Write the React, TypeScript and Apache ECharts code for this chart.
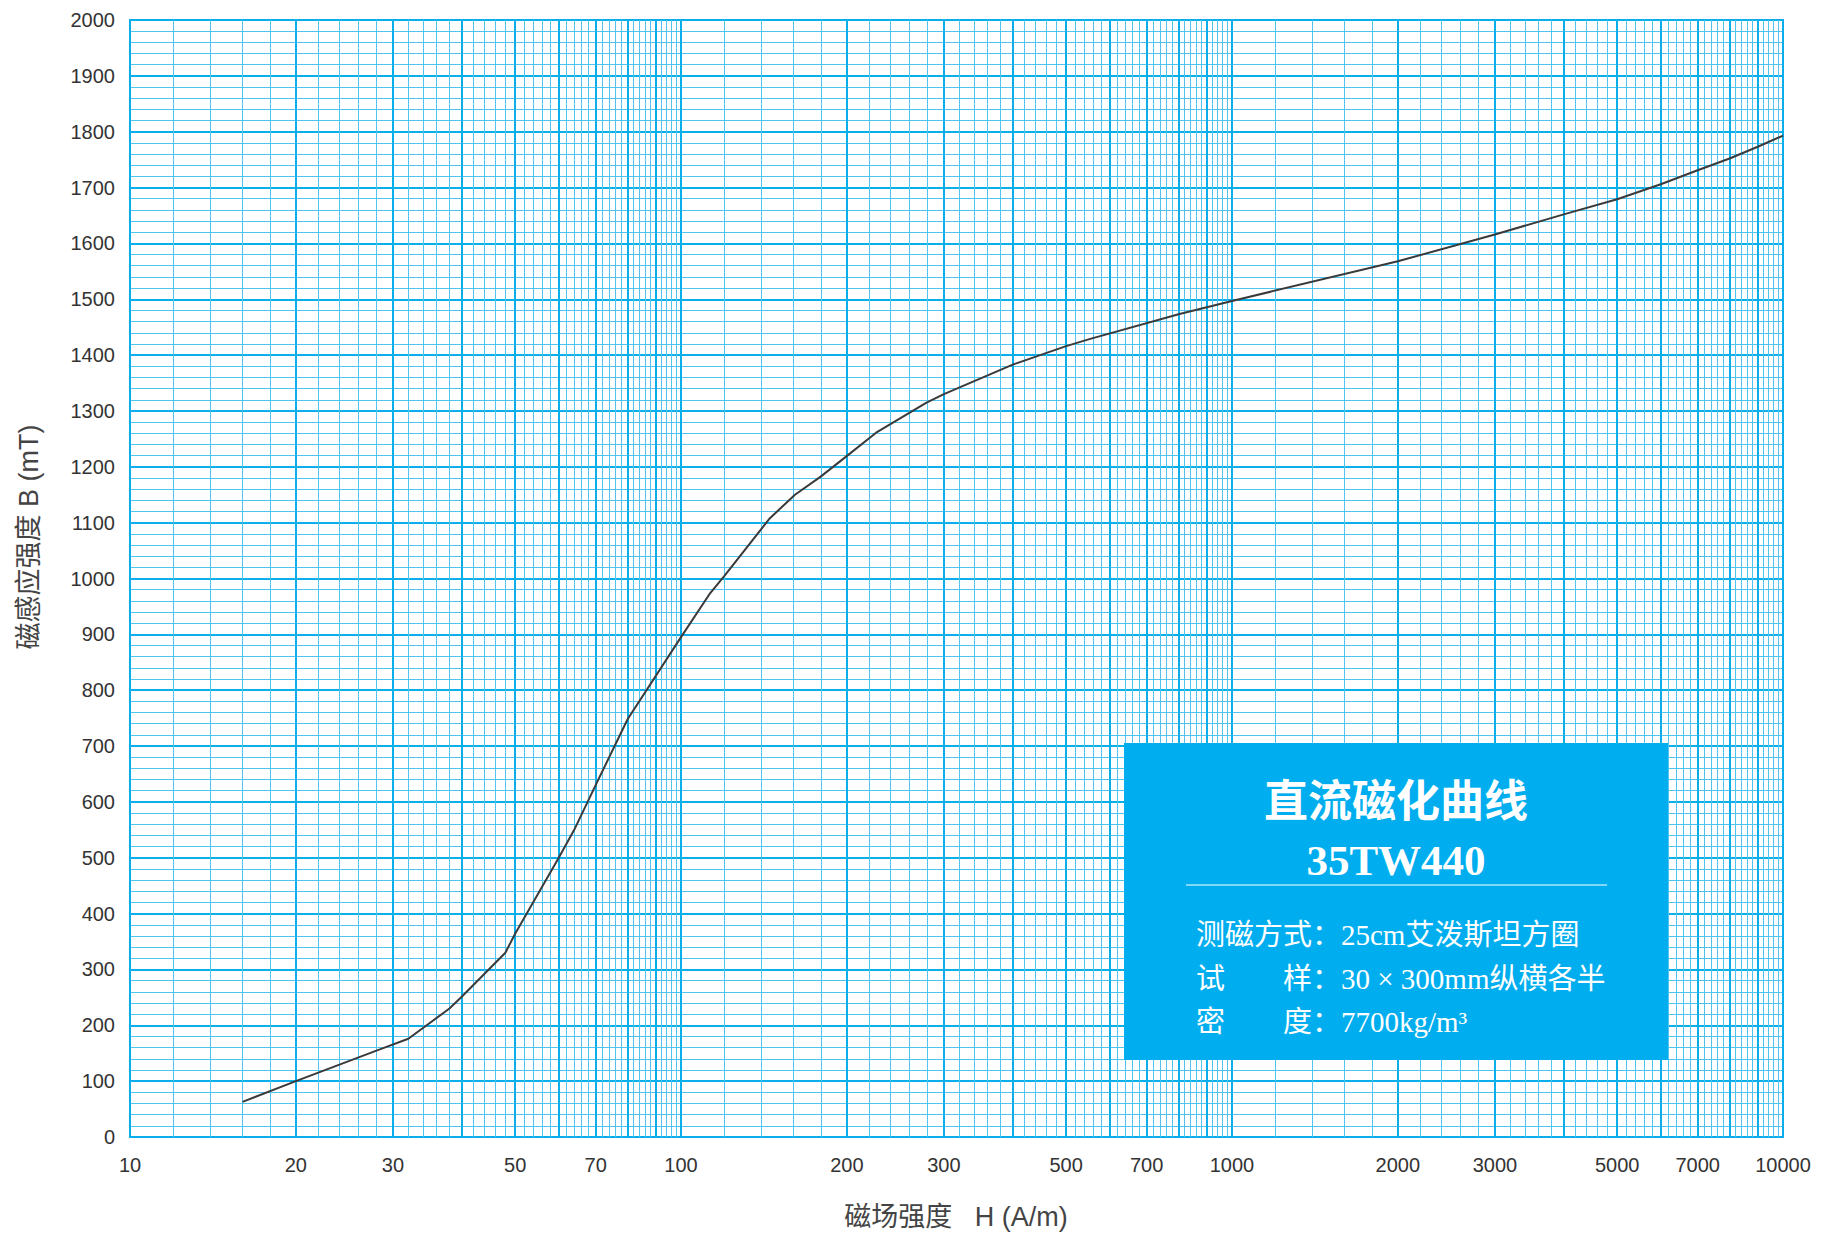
import React, { useEffect, useRef } from "react";
import * as echarts from "echarts";

// Magnetic field strength H (A/m) and flux density B (mT)
const H_VALUES = [16, 20, 28.4, 32, 38, 40, 48, 50, 60, 64, 70, 80, 100, 113, 120, 145, 161, 179, 198, 226, 279, 300, 400, 500, 553, 800, 1000, 2000, 3000, 4000, 5000, 6000, 7000, 8000, 9000, 10000];
const B_VALUES = [63, 100, 157, 176, 230, 251, 330, 364, 500, 550, 630, 748, 895, 974, 1005, 1108, 1150, 1182, 1216, 1261, 1315, 1330, 1383, 1416, 1429, 1473, 1497, 1568, 1616, 1652, 1679, 1706, 1731, 1752, 1773, 1793];

const X_TICK_LABELS = [10, 20, 30, 50, 70, 100, 200, 300, 500, 700, 1000, 2000, 3000, 5000, 7000, 10000];
const X_MIN = 10;
const X_MAX = 10000;
const Y_MIN = 0;
const Y_MAX = 2000;
const Y_STEP = 100;

const X_NAME = "磁场强度   H (A/m)";
const Y_NAME = "磁感应强度 B (mT)";
const BOX_TITLE = "直流磁化曲线";
const BOX_GRADE = "35TW440";
const BOX_LINES = ["测磁方式：25cm艾泼斯坦方圈", "试　　样：30 × 300mm纵横各半", "密　　度：7700kg/m³"];

const DECADES = [10, 100, 1000];
const MAJOR_STEPS = [1, 2, 3, 4, 5, 6, 7, 8, 9];
const MINOR_FRACTIONS = [0.2, 0.4, 0.6, 0.8];

const MAJOR_COLOR = "#0aaeea";
const MINOR_COLOR = "#4fc4ef";

function buildVerticalGrid() {
  const lines: any[] = [];
  DECADES.forEach((d) => {
    MAJOR_STEPS.forEach((m) => {
      MINOR_FRACTIONS.forEach((f) => {
        lines.push({ xAxis: (m + f) * d, lineStyle: { color: MINOR_COLOR, width: 1, type: "solid" } });
      });
    });
  });
  DECADES.forEach((d) => {
    MAJOR_STEPS.forEach((m) => {
      lines.push({ xAxis: m * d, lineStyle: { color: MAJOR_COLOR, width: 2, type: "solid" } });
    });
  });
  lines.push({ xAxis: X_MAX, lineStyle: { color: MAJOR_COLOR, width: 2, type: "solid" } });
  return lines;
}

export default function App() {
  const ref = useRef<HTMLDivElement>(null);

  useEffect(() => {
    if (!ref.current) return;
    const chart = echarts.init(ref.current, null, { renderer: "svg" });
    const serifFont = "'Liberation Serif', 'Noto Sans CJK SC', serif";
    const sansFont = "'Liberation Sans', 'Noto Sans CJK SC', sans-serif";
    const BOX_Z = 200;

    const option: any = {
      animation: false,
      backgroundColor: "#ffffff",
      grid: {
        left: 130,
        right: 49,
        top: 20,
        bottom: 97,
        show: true,
        backgroundColor: "#ffffff",
        borderColor: MAJOR_COLOR,
        borderWidth: 2,
      },
      xAxis: [
        {
          type: "log",
          logBase: 10,
          min: X_MIN,
          max: X_MAX,
          axisLine: { show: false },
          axisTick: { show: false },
          axisLabel: { show: false },
          splitLine: { show: false },
          minorSplitLine: { show: false },
        },
        {
          type: "value",
          min: Math.log10(X_MIN),
          max: Math.log10(X_MAX),
          position: "bottom",
          axisLine: { show: false },
          axisTick: { show: false },
          splitLine: { show: false },
          axisLabel: {
            customValues: X_TICK_LABELS.map((v) => Math.log10(v)),
            formatter: (v: number) => String(Math.round(Math.pow(10, v))),
            margin: 18,
            fontSize: 20,
            color: "#333333",
            fontFamily: "'Liberation Sans', Arial, sans-serif",
            hideOverlap: false,
          },
        },
      ],
      yAxis: {
        type: "value",
        min: Y_MIN,
        max: Y_MAX,
        interval: Y_STEP,
        axisLine: { show: false },
        axisTick: { show: false },
        axisLabel: {
          margin: 15,
          fontSize: 20,
          color: "#333333",
          fontFamily: "'Liberation Sans', Arial, sans-serif",
          formatter: (v: number) => String(v),
        },
        splitLine: { show: true, lineStyle: { color: MAJOR_COLOR, width: 2 } },
        minorTick: { show: false, splitNumber: 5 },
        minorSplitLine: { show: true, lineStyle: { color: MINOR_COLOR, width: 1 } },
      },
      series: [
        {
          type: "line",
          xAxisIndex: 0,
          data: [],
          z: 1,
          silent: true,
          markLine: {
            silent: true,
            symbol: ["none", "none"],
            label: { show: false },
            animation: false,
            emphasis: { disabled: true },
            data: buildVerticalGrid(),
          },
        },
        {
          type: "line",
          xAxisIndex: 0,
          z: 5,
          symbol: "none",
          showSymbol: false,
          smooth: false,
          lineStyle: { color: "#3a3a3a", width: 2 },
          data: H_VALUES.map((h, i) => [h, B_VALUES[i]]),
        },
      ],
      graphic: [
        {
          type: "text",
          x: 29,
          y: 537,
          rotation: Math.PI / 2,
          style: {
            text: Y_NAME,
            fill: "#444444",
            font: `27px ${sansFont}`,
            align: "center",
            verticalAlign: "middle",
          },
        },
        {
          type: "text",
          x: 956,
          y: 1217,
          style: {
            text: X_NAME,
            fill: "#444444",
            font: `27px ${sansFont}`,
            align: "center",
            verticalAlign: "middle",
          },
        },
        {
          type: "rect",
          z: BOX_Z,
          shape: { x: 1124, y: 743, width: 544, height: 317 },
          style: { fill: "#00aeef" },
        },
        {
          type: "text",
          z: BOX_Z + 1,
          x: 1396,
          y: 802,
          style: {
            text: BOX_TITLE,
            fill: "#ffffff",
            font: `bold 44px ${serifFont}`,
            align: "center",
            verticalAlign: "middle",
          },
        },
        {
          type: "text",
          z: BOX_Z + 1,
          x: 1396,
          y: 860,
          style: {
            text: BOX_GRADE,
            fill: "#ffffff",
            font: `bold 43px ${serifFont}`,
            align: "center",
            verticalAlign: "middle",
          },
        },
        {
          type: "line",
          z: BOX_Z + 1,
          shape: { x1: 1186, y1: 885, x2: 1607, y2: 885 },
          style: { stroke: "#ffffff", lineWidth: 1 },
        },
        ...BOX_LINES.map((t, i) => ({
          type: "text",
          z: BOX_Z + 1,
          x: 1196,
          y: 935 + i * 43.5,
          style: {
            text: t,
            fill: "#ffffff",
            font: `29px ${serifFont}`,
            align: "left",
            verticalAlign: "middle",
          },
        })),
      ],
    };

    chart.setOption(option);
    return () => {
      chart.dispose();
    };
  }, []);

  return (
    <div
      ref={ref}
      style={{ position: "absolute", left: 0, top: 0, width: 1832, height: 1234, background: "#ffffff" }}
    />
  );
}
